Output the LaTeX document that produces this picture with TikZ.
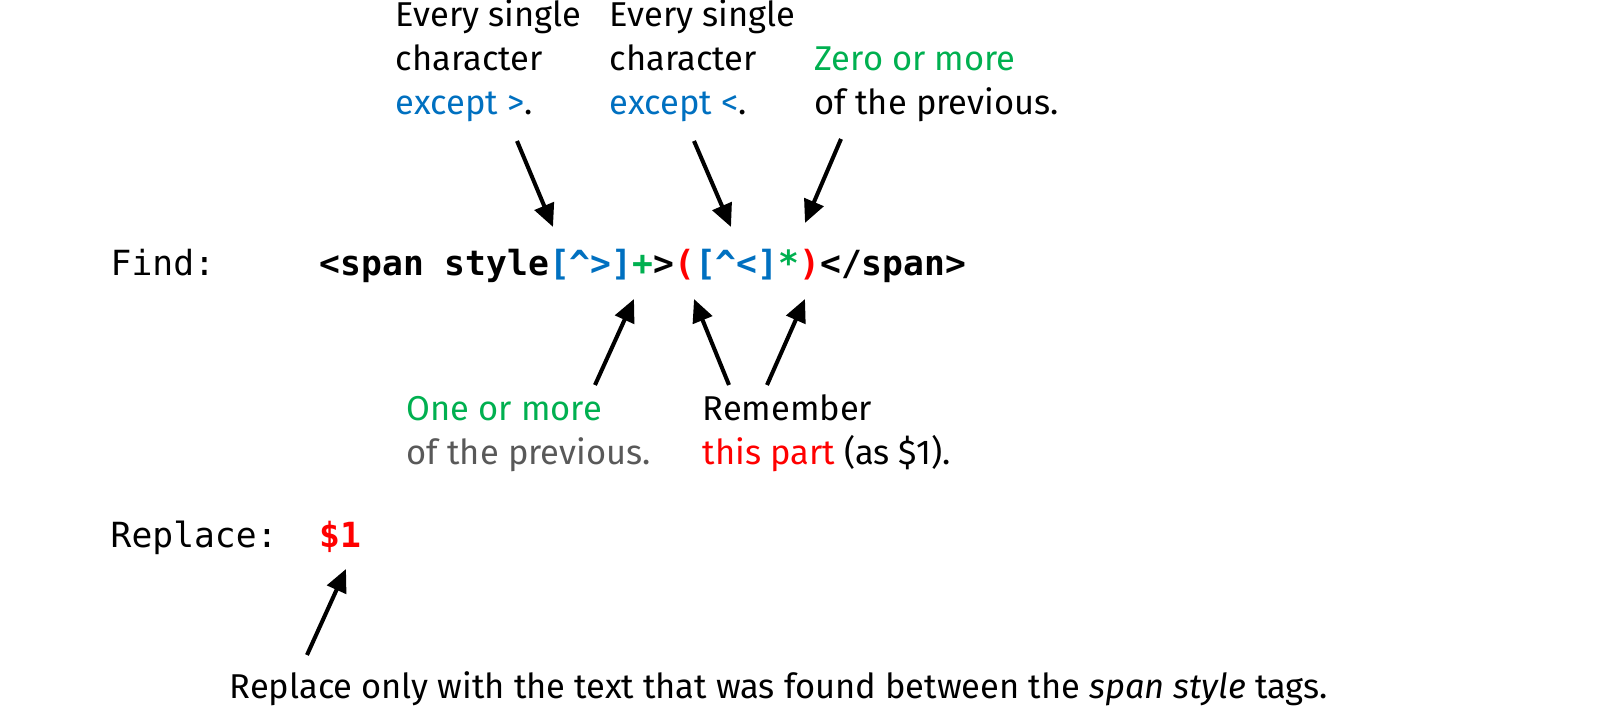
\documentclass[tikz,border=0pt]{standalone}
\usepackage{fontspec}
\setmainfont{Fira Sans}
\setmonofont{DejaVu Sans Mono}
\usetikzlibrary{arrows.meta}
\definecolor{rxblue}{HTML}{0070C0}
\definecolor{rxgreen}{HTML}{00B050}
\definecolor{rxred}{HTML}{FF0000}
\definecolor{rxgray}{HTML}{595959}
\begin{document}
\begin{tikzpicture}[x=0.01cm,y=0.01cm,
    note/.style={anchor=base west,align=left,inner sep=0pt,font=\fontsize{9.8}{12.6}\selectfont},
    code/.style={anchor=base west,inner sep=0pt,font=\fontsize{9.85}{12}\selectfont\ttfamily},
    codebold/.style={code,font=\fontsize{9.85}{12}\selectfont\ttfamily\bfseries},
    pointer/.style={line width=1.15pt,-{Triangle[length=6.5pt,width=5.8pt]}}]
    \useasboundingbox (0,0) rectangle (1600,710);
    % the two lines of code
    \node[code] (find) at (110,434) {Find:};
    \node[codebold] (pattern) at (319,434) {<span style\textcolor{rxblue}{[\textasciicircum>]}\textcolor{rxgreen}{+}>\textcolor{rxred}{(}\textcolor{rxblue}{[\textasciicircum<]}\textcolor{rxgreen}{*}\textcolor{rxred}{)}</span>};
    \node[code] (replace) at (110,162) {Replace:};
    \node[codebold,text=rxred] (dollar) at (319,162) {\$1};
    % notes (base = last line)
    \node[note] (notgt) at (395,595) {Every single\\character\\\textcolor{rxblue}{except >}.};
    \node[note] (notlt) at (609,595) {Every single\\character\\\textcolor{rxblue}{except <}.};
    \node[note] (zero) at (814,595) {\textcolor{rxgreen}{Zero or more}\\of the previous.};
    \node[note] (one) at (406,245) {\textcolor{rxgreen}{One or more}\\\textcolor{rxgray}{of the previous.}};
    \node[note] (keep) at (702,245) {Remember\\\textcolor{rxred}{this part} (as \$1).};
    \node[note] (tags) at (229,11) {Replace only with the text that was found between the \textit{span style} tags.};
    % arrow ends
    \coordinate (a1) at (517,569);
    \coordinate (b1) at (553,483);
    \coordinate (a2) at (694,569);
    \coordinate (b2) at (731,483);
    \coordinate (a3) at (841,571);
    \coordinate (b3) at (805,487);
    \coordinate (a4) at (595,325);
    \coordinate (b4) at (634,411);
    \coordinate (a5) at (729,325);
    \coordinate (b5) at (694,411);
    \coordinate (a6) at (767,325);
    \coordinate (b6) at (805,411);
    \coordinate (a7) at (307,55);
    \coordinate (b7) at (346,141);
    \draw[pointer] (a1) -- (b1);
    \draw[pointer] (a2) -- (b2);
    \draw[pointer] (a3) -- (b3);
    \draw[pointer] (a4) -- (b4);
    \draw[pointer] (a5) -- (b5);
    \draw[pointer] (a6) -- (b6);
    \draw[pointer] (a7) -- (b7);
\end{tikzpicture}
\end{document}
